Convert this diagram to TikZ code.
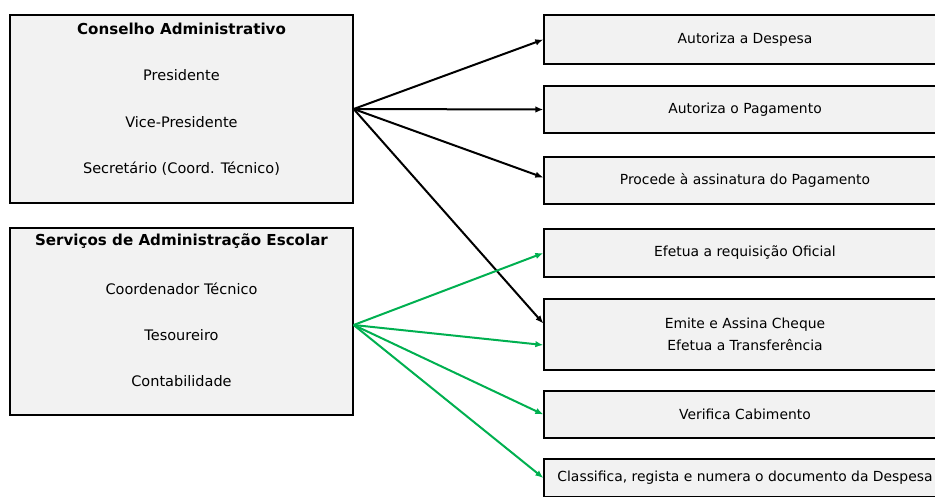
\documentclass[tikz,border=0pt]{standalone}
\usepackage{fontspec}
\setmainfont{DejaVu Sans}
\usetikzlibrary{arrows.meta,positioning}

\definecolor{boxgray}{RGB}{242,242,242}
\definecolor{arrgreen}{RGB}{0,176,80}

\tikzset{
  role/.style={draw,fill=boxgray,line width=1.3pt,minimum width=343,minimum height=188,inner sep=0},
  roletitle/.style={font=\fontsize{15.1}{18}\selectfont\bfseries},
  member/.style={font=\fontsize{14.5}{17}\selectfont},
  task/.style={draw,fill=boxgray,line width=1.3pt,minimum width=402,inner sep=0,align=center,font=\fontsize{13.9}{22}\selectfont},
  blackarr/.style={line width=2pt,-{Latex[length=8pt,width=6.5pt]}},
  greenarr/.style={blackarr,arrgreen}
}

\begin{document}
\begin{tikzpicture}[x=1pt,y=-1pt]
\useasboundingbox (0,0) rectangle (935,496);

% left side
\path (181.5,109)   node[role] (CA) {};
\path (181.5,29)    node[roletitle] (CAt) {Conselho Administrativo};
\path (181.5,75)    node[member] (CA1) {Presidente};
\path (181.5,122)   node[member] (CA2) {Vice-Presidente};
\path (181.5,169)   node[member] (CA3) {Secretário (Coord. Técnico)};

\path (181.5,321.5) node[role,minimum height=187] (SAE) {};
\path (181.5,241)   node[roletitle] (SAEt) {Serviços de Administração Escolar};
\path (181.5,289)   node[member] (SAE1) {Coordenador Técnico};
\path (181.5,335)   node[member] (SAE2) {Tesoureiro};
\path (181.5,381)   node[member] (SAE3) {Contabilidade};

% right side
\path (745,39.5)  node[task,minimum height=49] (AD) {Autoriza a Despesa};
\path (745,109.5) node[task,minimum height=47] (AP) {Autoriza o Pagamento};
\path (745,180.5) node[task,minimum height=47] (PA) {Procede à assinatura do Pagamento};
\path (745,253)   node[task,minimum height=48] (ER) {Efetua a requisição Oficial};
\path (745,334.5) node[task,minimum height=71] (EC) {Emite e Assina Cheque\\Efetua a Transferência};
\path (745,414.5) node[task,minimum height=47] (VC) {Verifica Cabimento};
\path (745,478)   node[task,minimum height=38] (CR) {Classifica, regista e numera o documento da Despesa};

\coordinate (ca-out) at (CA.east);
\coordinate (sae-out) at ([yshift=-3.5pt]SAE.east);

\draw[blackarr] (ca-out) -- (AD.west);
\draw[blackarr] (ca-out) -- (AP.west);
\draw[blackarr] (ca-out) -- ([yshift=3pt]PA.west);
\draw[blackarr] (ca-out) -- ([yshift=11pt]EC.west);

\draw[greenarr] (sae-out) -- (ER.west);
\draw[greenarr] (sae-out) -- ([yshift=-10.5pt]EC.west);
\draw[greenarr] (sae-out) -- (VC.west);
\draw[greenarr] (sae-out) -- (CR.west);
\end{tikzpicture}
\end{document}
